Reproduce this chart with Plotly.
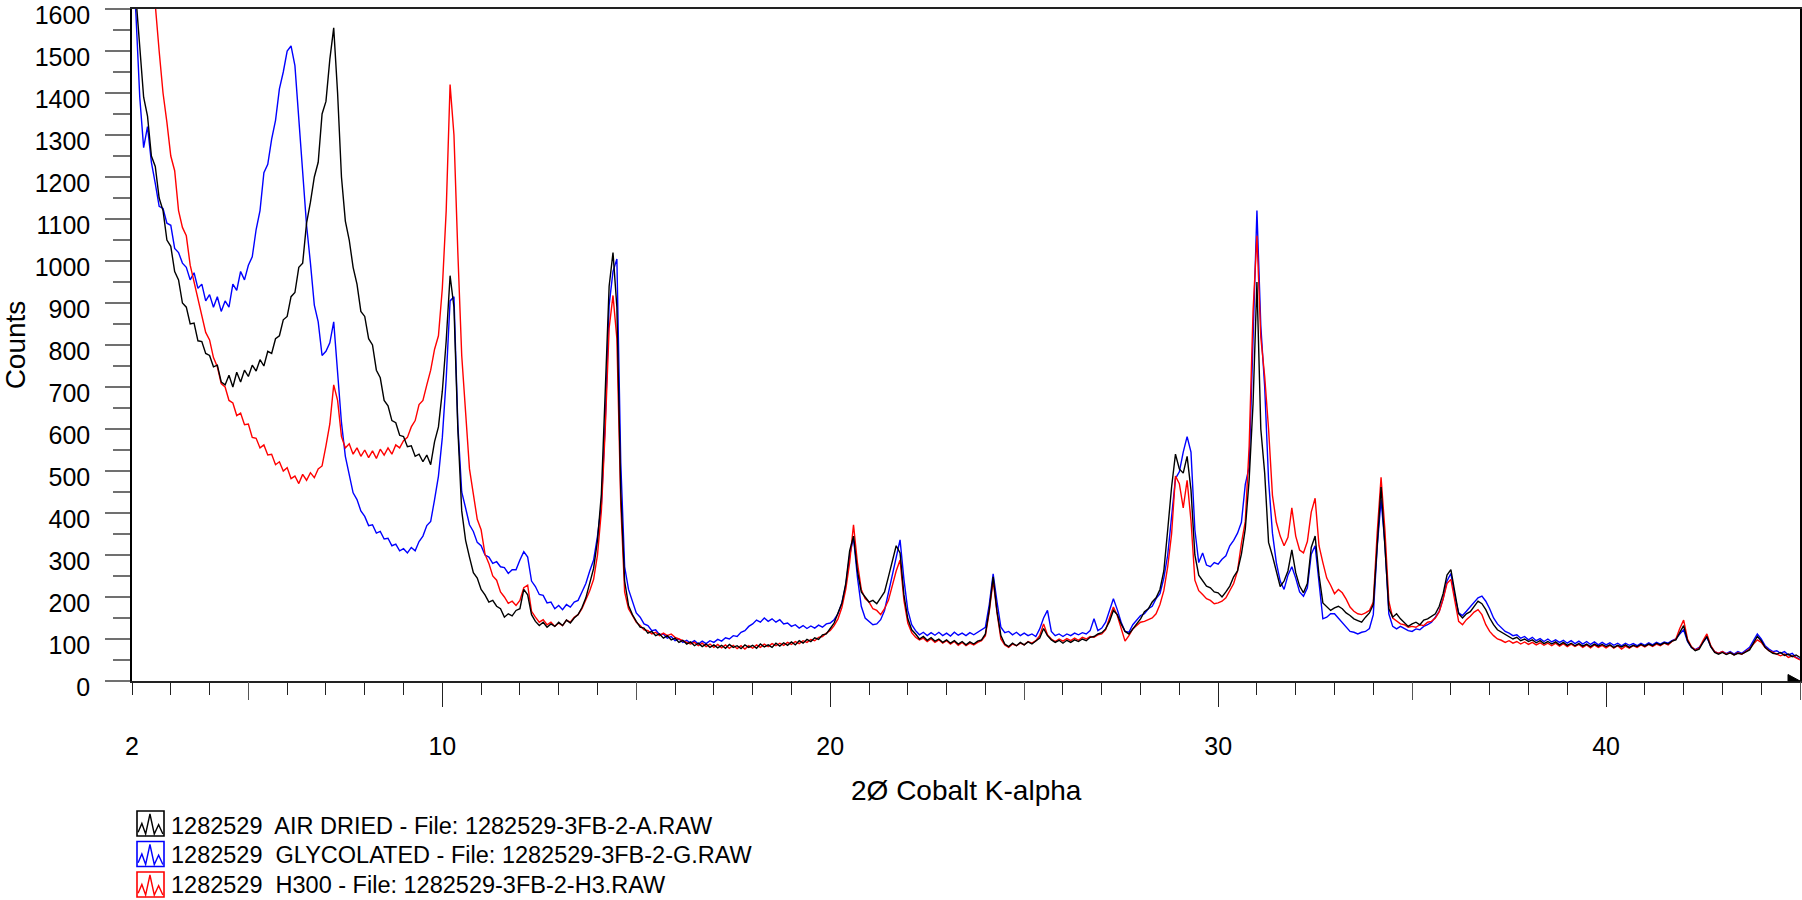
import numpy as np
import plotly.graph_objects as go

# 2-theta scan positions (degrees), 0.1 deg step from 2 to 45
two_theta = np.round(np.arange(2.0, 45.0001, 0.1), 1)

series_names = [
    "1282529\u00a0 AIR DRIED - File: 1282529-3FB-2-A.RAW",
    "1282529\u00a0 GLYCOLATED - File: 1282529-3FB-2-G.RAW",
    "1282529\u00a0 H300 - File: 1282529-3FB-2-H3.RAW",
]
series_colors = ["#000000", "#0000FF", "#FF0000"]

air_dried = [
    1750, 1640, 1510, 1390, 1345, 1250, 1225, 1150, 1120, 1050,   # 2
    1035, 975, 955, 900, 890, 850, 852, 810, 808, 780,            # 3
    775, 748, 752, 712, 705, 728, 700, 735, 712, 740,             # 4
    725, 752, 738, 765, 750, 785, 780, 815, 822, 860,             # 5
    868, 915, 925, 985, 995, 1090, 1140, 1200, 1235, 1350,        # 6
    1380, 1480, 1555, 1400, 1200, 1095, 1050, 985, 945, 880,      # 7
    868, 815, 800, 740, 722, 668, 655, 620, 615, 585,             # 8
    582, 558, 560, 535, 540, 522, 538, 515, 570, 605,             # 9
    690, 810, 965, 890, 600, 405, 335, 295, 258, 245,             # 10
    218, 205, 188, 192, 178, 172, 152, 160, 155, 168,             # 11
    172, 218, 205, 158, 142, 132, 140, 128, 136, 130,             # 12
    140, 132, 145, 138, 150, 158, 175, 198, 232, 268,             # 13
    335, 445, 690, 940, 1020, 890, 450, 238, 180, 158,            # 14
    142, 128, 126, 114, 118, 108, 112, 102, 108, 98,              # 15
    102, 92, 97, 88, 93, 84, 90, 82, 88, 80,                      # 16
    86, 79, 85, 78, 87, 80, 84, 77, 86, 80,                       # 17
    85, 78, 88, 81, 86, 80, 90, 83, 91, 85,                       # 18
    93, 86, 96, 90, 99, 94, 103, 99, 110, 112,                    # 19
    125, 138, 162, 185, 232, 310, 345, 262, 212, 200,             # 20
    188, 192, 184, 198, 212, 248, 282, 322, 305, 205,             # 21
    148, 122, 112, 100, 106, 97, 103, 95, 100, 92,                # 22
    98, 90, 96, 88, 94, 86, 93, 88, 95, 98,                       # 23
    112, 170, 248, 165, 108, 88, 82, 90, 84, 92,                  # 24
    86, 93, 88, 95, 102, 125, 108, 98, 92, 97,                    # 25
    90, 97, 92, 98, 94, 100, 96, 104, 106, 112,                   # 26
    115, 124, 142, 168, 158, 136, 118, 112, 125, 138,             # 27
    148, 165, 172, 188, 198, 218, 262, 360, 462, 540,             # 28
    505, 495, 535, 455, 300, 252, 240, 226, 222, 212,             # 29
    210, 200, 212, 226, 248, 262, 302, 362, 480, 660,             # 30
    950, 600, 495, 330, 298, 258, 225, 238, 262, 312,             # 31
    258, 226, 210, 232, 318, 345, 252, 186, 176, 168,             # 32
    174, 178, 172, 162, 156, 148, 144, 140, 152, 162,             # 33
    182, 330, 462, 320, 172, 152, 160, 148, 138, 130,             # 34
    136, 140, 134, 145, 148, 155, 160, 178, 208, 252,             # 35
    265, 212, 160, 150, 160, 165, 178, 190, 184, 170,             # 36
    150, 134, 122, 116, 110, 106, 100, 104, 96, 100,              # 37
    94, 98, 91, 96, 89, 94, 88, 93, 86, 92,                       # 38
    85, 90, 84, 89, 83, 88, 82, 88, 83, 87,                       # 39
    82, 86, 80, 85, 81, 86, 80, 85, 82, 87,                       # 40
    83, 88, 84, 90, 86, 91, 88, 95, 98, 115,                      # 41
    132, 96, 80, 72, 76, 92, 106, 82, 68, 64,                     # 42
    68, 63, 67, 62, 66, 64, 69, 74, 90, 106,                      # 43
    96, 80, 72, 66, 64, 68, 61, 64, 58, 62,                       # 44
    56,                                                           # 45
]

glycolated = [
    1720, 1590, 1390, 1270, 1320, 1235, 1185, 1130, 1125, 1090,   # 2
    1085, 1030, 1020, 995, 985, 955, 972, 935, 945, 905,          # 3
    920, 890, 915, 880, 905, 890, 945, 930, 975, 955,             # 4
    990, 1010, 1075, 1120, 1210, 1230, 1290, 1335, 1410, 1450,    # 5
    1500, 1512, 1465, 1330, 1215, 1085, 995, 895, 855, 775,       # 6
    785, 805, 855, 745, 615, 535, 490, 448, 432, 405,             # 7
    392, 370, 372, 352, 356, 338, 340, 322, 326, 310,             # 8
    315, 305, 318, 310, 332, 345, 370, 380, 432, 488,             # 9
    580, 720, 905, 915, 610, 450, 412, 372, 356, 330,             # 10
    322, 300, 295, 280, 284, 272, 270, 256, 265, 265,             # 11
    288, 308, 295, 238, 225, 206, 204, 186, 188, 172,             # 12
    180, 170, 182, 176, 188, 192, 212, 232, 262, 288,             # 13
    345, 420, 615, 895, 975, 1005, 520, 272, 218, 188,            # 14
    162, 152, 136, 132, 120, 122, 110, 112, 102, 106,             # 15
    96, 100, 92, 97, 90, 96, 88, 95, 89, 96,                      # 16
    92, 99, 95, 103, 100, 108, 106, 116, 120, 130,                # 17
    136, 145, 140, 150, 142, 148, 140, 146, 136, 138,             # 18
    130, 134, 126, 132, 125, 131, 126, 133, 128, 136,             # 19
    138, 146, 160, 186, 228, 298, 342, 248, 178, 150,             # 20
    142, 134, 136, 146, 168, 212, 252, 296, 336, 242,             # 21
    168, 134, 120, 110, 116, 108, 115, 109, 116, 108,             # 22
    114, 107, 116, 109, 114, 108, 115, 110, 116, 120,             # 23
    128, 182, 255, 188, 128, 115, 118, 110, 116, 108,             # 24
    114, 108, 112, 106, 124, 150, 168, 118, 108, 112,             # 25
    106, 112, 108, 114, 110, 115, 112, 120, 148, 120,             # 26
    126, 140, 168, 196, 170, 140, 118, 116, 134, 146,             # 27
    156, 160, 172, 178, 196, 208, 245, 300, 400, 482,             # 28
    498, 545, 582, 545, 360, 282, 305, 276, 272, 282,             # 29
    278, 290, 298, 322, 335, 352, 378, 468, 510, 790,             # 30
    1120, 845, 700, 478, 352, 282, 238, 218, 252, 272,            # 31
    245, 212, 202, 222, 302, 322, 238, 148, 152, 160,             # 32
    160, 150, 140, 128, 118, 116, 112, 116, 118, 125,             # 33
    158, 318, 432, 325, 160, 130, 124, 130, 124, 120,             # 34
    118, 124, 122, 130, 134, 140, 152, 166, 196, 238,             # 35
    256, 202, 162, 156, 166, 176, 186, 198, 202, 190,             # 36
    172, 150, 136, 126, 118, 114, 108, 110, 102, 106,             # 37
    98, 104, 96, 101, 94, 100, 93, 98, 92, 97,                    # 38
    90, 96, 89, 95, 88, 94, 87, 93, 86, 92,                       # 39
    86, 91, 85, 90, 84, 90, 85, 89, 84, 90,                       # 40
    85, 91, 86, 92, 88, 93, 90, 96, 100, 112,                     # 41
    122, 94, 80, 75, 80, 92, 104, 82, 70, 66,                     # 42
    70, 65, 70, 64, 70, 66, 72, 80, 96, 112,                      # 43
    100, 84, 76, 70, 72, 66, 70, 62, 66, 56,                      # 44
    52,                                                           # 45
]

h300 = [
    2100, 2000, 1900, 1820, 1740, 1680, 1610, 1500, 1400, 1330,   # 2
    1250, 1215, 1120, 1080, 1060, 990, 950, 905, 868, 830,        # 3
    812, 770, 748, 708, 700, 668, 662, 632, 638, 610,             # 4
    612, 580, 578, 555, 562, 538, 540, 515, 522, 500,             # 5
    508, 482, 488, 470, 492, 478, 496, 484, 505, 512,             # 6
    560, 612, 705, 668, 582, 555, 565, 540, 555, 535,             # 7
    550, 532, 548, 530, 552, 538, 555, 540, 562, 555,             # 8
    572, 580, 605, 620, 658, 668, 705, 740, 790, 822,             # 9
    935, 1120, 1420, 1300, 1020, 775, 640, 505, 445, 385,         # 10
    360, 302, 280, 250, 240, 212, 200, 185, 190, 180,             # 11
    192, 222, 228, 166, 152, 140, 146, 134, 140, 130,             # 12
    138, 132, 145, 140, 152, 158, 172, 192, 215, 242,             # 13
    300, 405, 600, 840, 918, 815, 420, 212, 172, 156,             # 14
    140, 132, 122, 120, 112, 116, 108, 114, 108, 112,             # 15
    104, 100, 96, 93, 88, 92, 84, 90, 82, 88,                     # 16
    80, 87, 79, 86, 78, 85, 77, 84, 76, 84,                       # 17
    78, 86, 80, 88, 82, 89, 84, 90, 85, 92,                       # 18
    87, 94, 89, 96, 92, 99, 96, 104, 106, 114,                    # 19
    120, 132, 148, 175, 218, 282, 372, 282, 218, 196,             # 20
    188, 172, 168, 158, 172, 192, 228, 262, 288, 192,             # 21
    138, 115, 104, 98, 102, 94, 100, 92, 98, 90,                  # 22
    96, 88, 94, 85, 92, 84, 90, 86, 92, 96,                       # 23
    108, 165, 240, 162, 100, 86, 80, 88, 84, 90,                  # 24
    86, 94, 90, 96, 108, 136, 110, 100, 94, 100,                  # 25
    95, 101, 96, 102, 97, 104, 100, 106, 104, 110,                # 26
    112, 122, 150, 176, 156, 128, 95, 108, 124, 132,              # 27
    140, 142, 146, 150, 160, 182, 215, 272, 350, 488,             # 28
    470, 412, 478, 382, 240, 215, 206, 196, 192, 184,             # 29
    186, 190, 198, 216, 232, 262, 328, 380, 560, 880,             # 30
    1060, 818, 725, 600, 442, 378, 345, 322, 342, 412,            # 31
    345, 312, 305, 332, 402, 435, 322, 282, 245, 228,             # 32
    208, 218, 210, 195, 176, 166, 160, 158, 162, 168,             # 33
    188, 352, 485, 358, 190, 150, 142, 136, 134, 128,             # 34
    130, 128, 134, 132, 140, 142, 150, 165, 195, 232,             # 35
    242, 188, 142, 134, 146, 154, 164, 170, 158, 134,             # 36
    118, 108, 100, 97, 92, 96, 90, 94, 88, 93,                    # 37
    87, 92, 86, 91, 85, 90, 84, 90, 83, 89,                       # 38
    82, 88, 82, 87, 80, 86, 79, 86, 80, 85,                       # 39
    79, 85, 78, 84, 76, 83, 78, 84, 80, 86,                       # 40
    81, 87, 82, 88, 84, 90, 86, 94, 100, 125,                     # 41
    145, 100, 82, 74, 78, 96, 112, 84, 70, 66,                    # 42
    70, 64, 68, 62, 67, 64, 70, 76, 88, 98,                       # 43
    92, 80, 72, 68, 64, 60, 64, 56, 60, 54,                       # 44
    50,                                                           # 45
]

x_label_ticks = [2, 10, 20, 30, 40]
x_long_ticks = [10, 20, 30, 40]
x_mid_ticks = [5, 15, 25, 35, 45]
x_minor_ticks = [v for v in range(3, 45) if v % 5 != 0]
y_major_ticks = list(range(0, 1601, 100))
y_minor_ticks = list(range(50, 1600, 100))

FONT = "Liberation Sans, Arial, sans-serif"
W, H = 1802, 900
ML, MR, MT, MB = 132, 2, 9, 219
PW, PH = W - ML - MR, H - MT - MB


def px_x(px):
    return (px - ML) / PW


def px_y(py):
    return (H - MB - py) / PH


fig = go.Figure()
# draw order: blue, red, black on top
for ys, name, col in [(glycolated, series_names[1], series_colors[1]),
                      (h300, series_names[2], series_colors[2]),
                      (air_dried, series_names[0], series_colors[0])]:
    fig.add_trace(go.Scatter(x=two_theta, y=ys, mode="lines", name=name,
                             line=dict(color=col, width=1.4), showlegend=False,
                             hoverinfo="x+y+name"))

# empty traces to register overlay axes for extra tick lengths
fig.add_trace(go.Scatter(x=[], y=[], xaxis="x2", yaxis="y", showlegend=False))
fig.add_trace(go.Scatter(x=[], y=[], xaxis="x3", yaxis="y", showlegend=False))

tick_font = dict(family=FONT, size=25, color="#000000")
title_font = dict(family=FONT, size=28, color="#000000")

fig.update_layout(
    width=W, height=H,
    margin=dict(l=ML, r=MR, t=MT, b=MB, autoexpand=False),
    paper_bgcolor="white", plot_bgcolor="white",
    showlegend=False,
    xaxis=dict(
        range=[2, 45], showgrid=False, zeroline=False,
        showline=True, linecolor="#222222", linewidth=1.5, mirror=True,
        tickmode="array", tickvals=x_label_ticks,
        ticktext=[str(v) for v in x_label_ticks],
        ticks="outside", ticklen=12, tickwidth=1.3, tickcolor="#222222",
        tickfont=tick_font, ticklabelstandoff=30, ticklabeloverflow="allow",
        minor=dict(tickmode="array", tickvals=x_minor_ticks, ticks="outside",
                   ticklen=12, tickwidth=1.3, tickcolor="#222222", showgrid=False),
        automargin=False,
    ),
    xaxis2=dict(
        range=[2, 45], overlaying="x", anchor="y", side="bottom",
        showgrid=False, zeroline=False, showline=False, showticklabels=False,
        tickmode="array", tickvals=x_long_ticks, ticks="outside",
        ticklen=25, tickwidth=1.3, tickcolor="#222222", automargin=False,
    ),
    xaxis3=dict(
        range=[2, 45], overlaying="x", anchor="y", side="bottom",
        showgrid=False, zeroline=False, showline=False, showticklabels=False,
        tickmode="array", tickvals=x_mid_ticks, ticks="outside",
        ticklen=18, tickwidth=1.3, tickcolor="#555555", automargin=False,
    ),
    yaxis=dict(
        range=[0, 1600], showgrid=False, zeroline=False,
        showline=True, linecolor="#000000", linewidth=1.5, mirror=True,
        tickmode="array", tickvals=y_major_ticks,
        ticktext=[str(v) for v in y_major_ticks],
        ticks="outside", ticklen=25, tickwidth=1.5, tickcolor="#707070",
        tickfont=tick_font, ticklabelstandoff=10, ticklabelshift=6,
        ticklabeloverflow="allow",
        minor=dict(tickmode="array", tickvals=y_minor_ticks, ticks="outside",
                   ticklen=17, tickwidth=1.5, tickcolor="#707070", showgrid=False),
        title=dict(text="Counts", font=title_font, standoff=5),
        automargin=False,
    ),
)

annotations = [
    dict(xref="paper", yref="paper", x=0.5, y=px_y(790), xanchor="center",
         yanchor="middle", showarrow=False, text="2Ø Cobalt K-alpha", font=title_font),
]

# legend (custom, below the plot)
row_centers = [823.5, 854.0, 884.5]
text_centers = [826.0, 855.0, 885.0]
zig = [(0.04, 0.85), (0.18, 0.5), (0.32, 0.92), (0.48, 0.12),
       (0.64, 0.92), (0.8, 0.55), (0.96, 0.92)]
bx0, bx1 = 137, 164
shapes = []
for i, (name, col) in enumerate(zip(series_names, series_colors)):
    cy = row_centers[i]
    by0, by1 = cy - 12.5, cy + 12.5
    shapes.append(dict(type="rect", xref="paper", yref="paper",
                       x0=px_x(bx0), x1=px_x(bx1), y0=px_y(by1), y1=px_y(by0),
                       line=dict(color=col, width=1.6), fillcolor="rgba(0,0,0,0)"))
    path = ""
    for j, (fx, fy) in enumerate(zig):
        X = px_x(bx0 + fx * (bx1 - bx0))
        Y = px_y(by0 + fy * (by1 - by0))
        path += ("M" if j == 0 else "L") + f"{X:.6f},{Y:.6f} "
    shapes.append(dict(type="path", xref="paper", yref="paper", path=path.strip(),
                       line=dict(color=col, width=1.4)))
    annotations.append(dict(xref="paper", yref="paper", x=px_x(169), y=px_y(text_centers[i]),
                            xanchor="left", yanchor="middle", showarrow=False,
                            text=name, font=dict(family=FONT, size=23.5, color="#000000")))

# small arrow head at the right end of the x axis
tri = (f"M{px_x(1788):.6f},{px_y(674.5):.6f} L{px_x(1800):.6f},{px_y(681):.6f} "
       f"L{px_x(1788):.6f},{px_y(681):.6f} Z")
shapes.append(dict(type="path", xref="paper", yref="paper", path=tri,
                   fillcolor="#000000", line=dict(color="#000000", width=1)))

fig.update_layout(shapes=shapes, annotations=annotations)

fig.write_html("out.html")
